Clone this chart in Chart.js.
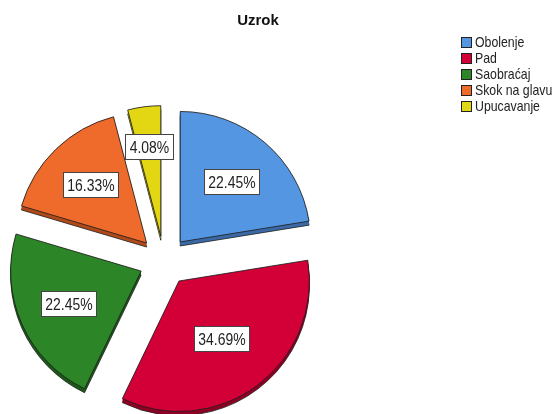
<!DOCTYPE html>
<html>
<head>
<meta charset="utf-8">
<script src="https://cdn.jsdelivr.net/npm/chart.js@4.4.1/dist/chart.umd.min.js"></script>
<style>
  html, body { margin: 0; padding: 0; background: #fff; }
  #wrap { width: 554px; height: 414px; }
</style>
</head>
<body>
<div id="wrap"><canvas id="pie" width="554" height="414"></canvas></div>
<script>
// Data
const categories = ['Obolenje', 'Pad', 'Saobraćaj', 'Skok na glavu', 'Upucavanje'];
const percents   = [22.45, 34.69, 22.45, 16.33, 4.08];
const chartTitle = 'Uzrok';

const faceColors = ['#5596e3', '#d20036', '#2c8628', '#ef6b2c', '#e3d612'];
const rimColors  = ['#3b6aa6', '#8f0024', '#1d5a1a', '#b04a1a', '#9f960a'];
// where each % box sits between slice tip and rim (share of radius)
const labelDepth = [0.61, 0.55, 0.61, 0.62, 0.69];

const EXPLODE = 25;   // px each slice is pulled out
const RIM = 4;        // fake 3D thickness
const SQUEEZE = 0.82; // Arial -> Arial Narrow look
const SANS = "'Liberation Sans', Arial, sans-serif";

// narrow text: plain fillText under a horizontal squeeze
function narrowText (ctx, text, x, y) {
  ctx.save();
  ctx.translate(x, y);
  ctx.scale(SQUEEZE, 1);
  ctx.fillText(text, 0, 0);
  ctx.restore();
}

const spssPie = {
  id: 'spssPie',

  // pull every slice out along its middle angle
  afterDatasetUpdate (chart, args) {
    args.meta.data.forEach(arc => {
      const mid = (arc.startAngle + arc.endAngle) / 2;
      arc.x += Math.cos(mid) * EXPLODE;
      arc.y += Math.sin(mid) * EXPLODE;
    });
  },

  // darker copy underneath, shifted down, gives the thin 3D edge
  beforeDatasetsDraw (chart) {
    const ctx = chart.ctx;
    ctx.save();
    chart.getDatasetMeta(0).data.forEach((arc, i) => {
      for (let d = RIM; d >= 1; d--) {
        ctx.beginPath();
        ctx.moveTo(arc.x, arc.y + d);
        ctx.arc(arc.x, arc.y + d, arc.outerRadius, arc.startAngle, arc.endAngle);
        ctx.closePath();
        ctx.fillStyle = rimColors[i];
        ctx.fill();
        if (d === RIM) {
          ctx.strokeStyle = 'rgba(30,30,30,0.8)';
          ctx.lineWidth = 1;
          ctx.stroke();
        }
      }
    });
    ctx.restore();
  },

  afterDatasetsDraw (chart) {
    const ctx = chart.ctx;
    const values = chart.data.datasets[0].data;
    ctx.save();
    ctx.font = `17px ${SANS}`;
    ctx.textAlign = 'center';
    ctx.textBaseline = 'middle';
    chart.getDatasetMeta(0).data.forEach((arc, i) => {
      const mid = (arc.startAngle + arc.endAngle) / 2;
      const r = arc.outerRadius * labelDepth[i];
      const x = arc.x + Math.cos(mid) * r;
      const y = arc.y + Math.sin(mid) * r;
      const text = values[i].toFixed(2) + '%';
      const w = Math.round(ctx.measureText(text).width * SQUEEZE + 8);
      const h = 25;
      const left = Math.round(x - w / 2) + 0.5;
      const top  = Math.round(y - h / 2) + 0.5;
      ctx.fillStyle = '#fff';
      ctx.fillRect(left, top, w, h);
      ctx.strokeStyle = '#444';
      ctx.lineWidth = 1;
      ctx.strokeRect(left, top, w, h);
      ctx.fillStyle = '#222';
      narrowText(ctx, text, left + w / 2, top + h / 2 + 1);
    });
    ctx.restore();
  },

  // title and the SPSS style legend in the top right
  afterDraw (chart) {
    const ctx = chart.ctx;
    ctx.save();
    ctx.fillStyle = '#111';
    ctx.font = `bold 15px ${SANS}`;
    ctx.textAlign = 'center';
    ctx.textBaseline = 'middle';
    ctx.fillText(chartTitle, 258, 21);

    ctx.font = `15px ${SANS}`;
    ctx.textAlign = 'left';
    chart.data.labels.forEach((label, i) => {
      const top = 37 + i * 16;
      ctx.fillStyle = faceColors[i];
      ctx.fillRect(461, top, 11, 11);
      ctx.strokeStyle = '#222';
      ctx.lineWidth = 1;
      ctx.strokeRect(461.5, top + 0.5, 10, 10);
      ctx.fillStyle = '#222';
      narrowText(ctx, label, 475, top + 6);
    });
    ctx.restore();
  }
};

new Chart(document.getElementById('pie'), {
  type: 'pie',
  data: {
    labels: categories,
    datasets: [{
      data: percents,
      backgroundColor: faceColors,
      borderColor: 'rgba(30,30,30,0.85)',
      borderWidth: 1,
      hoverOffset: 0,
      clip: false
    }]
  },
  options: {
    responsive: false,
    animation: false,
    layout: { padding: { top: 130, bottom: 22, left: 0, right: 226 } },
    plugins: {
      legend: { display: false },
      title: { display: false },
      tooltip: { enabled: false }
    }
  },
  plugins: [spssPie]
});
</script>
</body>
</html>
